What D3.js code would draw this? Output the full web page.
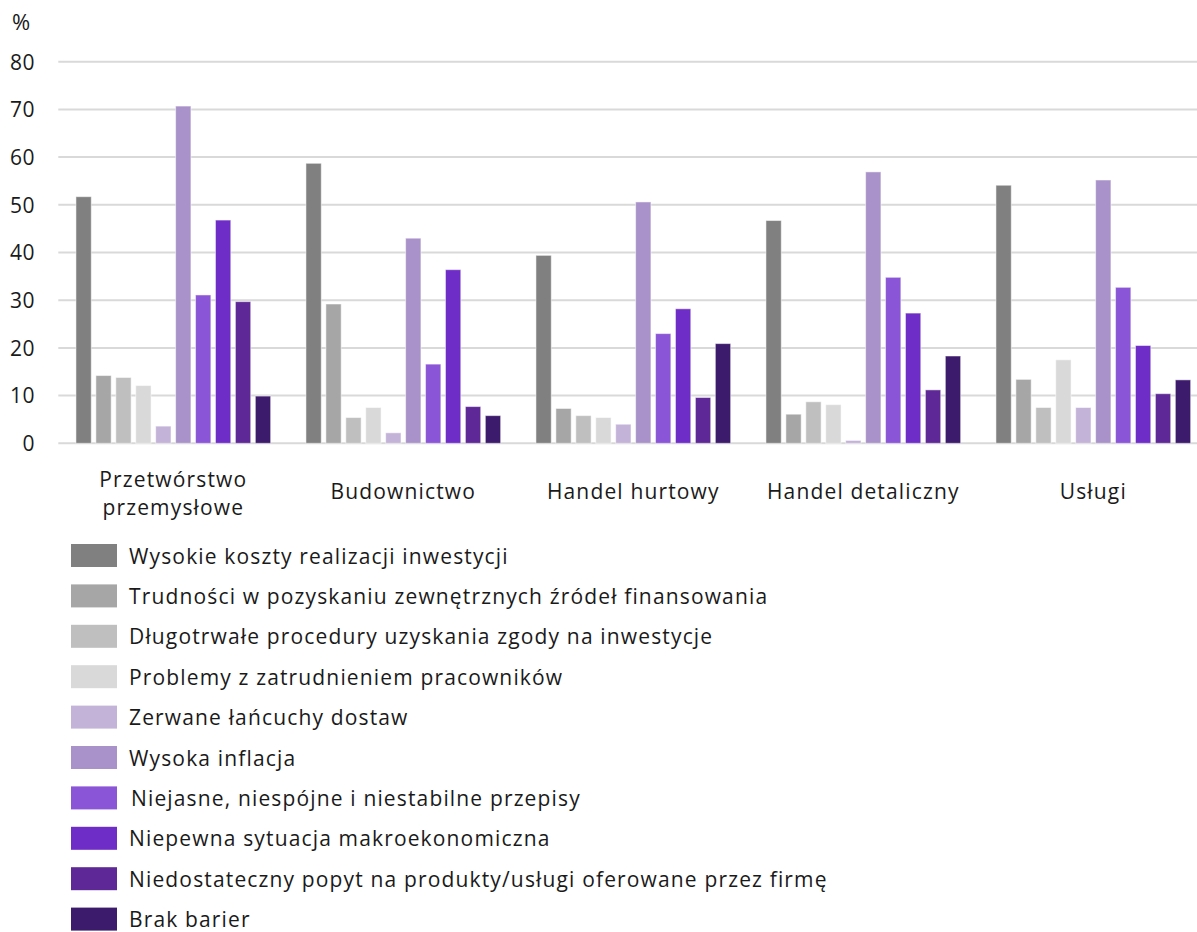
<!DOCTYPE html>
<html>
<head>
<meta charset="utf-8">
<script src="https://cdn.jsdelivr.net/npm/d3@7"></script>
<style>
  html, body { margin: 0; padding: 0; background: #fff; }
  svg { display: block; }
  text { font-family: "Open Sans", "Noto Sans", sans-serif; fill: #1a1a1a; }
</style>
</head>
<body>
<svg id="chart" width="1197" height="932"></svg>
<script>
// ---- data ----
const categories = [
  ["Przetwórstwo", "przemysłowe"],
  ["Budownictwo"],
  ["Handel hurtowy"],
  ["Handel detaliczny"],
  ["Usługi"]
];
const seriesNames = [
  "Wysokie koszty realizacji inwestycji",
  "Trudności w pozyskaniu zewnętrznych źródeł finansowania",
  "Długotrwałe procedury uzyskania zgody na inwestycje",
  "Problemy z zatrudnieniem pracowników",
  "Zerwane łańcuchy dostaw",
  "Wysoka inflacja",
  "Niejasne, niespójne i niestabilne przepisy",
  "Niepewna sytuacja makroekonomiczna",
  "Niedostateczny popyt na produkty/usługi oferowane przez firmę",
  "Brak barier"
];
const seriesColors = ["#808080", "#a6a6a6", "#bfbfbf", "#d9d9d9", "#c3b3d9",
                      "#a992c9", "#8a55d6", "#6f2dc8", "#5e2896", "#3c1a6c"];
// values per series, across the five sectors
const sWysokieKoszty   = [51.7, 58.7, 39.4, 46.7, 54.1];
const sTrudnosci       = [14.2, 29.2,  7.3,  6.1, 13.4];
const sProcedury       = [13.8,  5.4,  5.8,  8.7,  7.5];
const sZatrudnienie    = [12.1,  7.5,  5.4,  8.1, 17.5];
const sLancuchy        = [ 3.6,  2.2,  4.0,  0.6,  7.5];
const sInflacja        = [70.7, 43.0, 50.6, 56.9, 55.2];
const sPrzepisy        = [31.1, 16.6, 23.0, 34.8, 32.7];
const sMakro           = [46.8, 36.4, 28.2, 27.3, 20.5];
const sPopyt           = [29.7,  7.7,  9.6, 11.2, 10.4];
const sBrakBarier      = [ 9.9,  5.8, 20.9, 18.3, 13.3];
const seriesValues = [sWysokieKoszty, sTrudnosci, sProcedury, sZatrudnienie, sLancuchy,
                      sInflacja, sPrzepisy, sMakro, sPopyt, sBrakBarier];
const yTicks = [0, 10, 20, 30, 40, 50, 60, 70, 80];
const yUnit = "%";

// ---- layout ----
const svg = d3.select("#chart");
const y = d3.scaleLinear().domain([0, 80]).range([443.3, 61.7]);
const x0 = d3.scaleBand().domain(d3.range(categories.length)).range([58.3, 1208.3]).padding(0);
const x1 = d3.scaleBand().domain(d3.range(seriesNames.length))
  .range([17.65, x0.bandwidth() - 17.65]).paddingInner(0.232).paddingOuter(0);

// gridlines
svg.append("g").selectAll("line").data(yTicks).join("line")
  .attr("x1", 58.3).attr("x2", 1197)
  .attr("y1", d => y(d)).attr("y2", d => y(d))
  .attr("stroke", "#d9d9d9").attr("stroke-width", 2);

// y axis labels
const yAxis = d3.axisLeft(y).tickValues(yTicks).tickSize(0).tickPadding(0);
const gy = svg.append("g").attr("transform", "translate(35,0)").call(yAxis);
gy.select(".domain").remove();
gy.selectAll("text").style("font-family", '"Open Sans", sans-serif')
  .style("font-size", "21px").style("letter-spacing", "0.5px")
  .attr("fill", "#1a1a1a").attr("dy", "0.35em");
svg.append("text").attr("x", 12).attr("y", 30).style("font-size", "22px").text(yUnit);

// bars
const groups = svg.append("g").selectAll("g").data(categories).join("g")
  .attr("transform", (d, i) => `translate(${x0(i)},0)`);
groups.selectAll("rect")
  .data((d, i) => seriesValues.map((s, k) => ({ k, v: s[i] })))
  .join("rect")
  .attr("x", d => x1(d.k))
  .attr("width", x1.bandwidth())
  .attr("y", d => y(d.v))
  .attr("height", d => y(0) - y(d.v))
  .attr("fill", d => seriesColors[d.k])
  .attr("stroke", "#ffffff").attr("stroke-opacity", 0.5).attr("stroke-width", 1);

// category labels
groups.each(function(d) {
  const g = d3.select(this);
  const cx = x0.bandwidth() / 2;
  const baselines = d.length === 2 ? [487, 515] : [499];
  d.forEach((line, j) => {
    g.append("text").attr("x", cx).attr("y", baselines[j])
      .attr("text-anchor", "middle").style("font-size", "21px")
      .style("letter-spacing", "1.15px").text(line);
  });
});

// legend
const lg = svg.append("g").selectAll("g").data(seriesNames).join("g")
  .attr("transform", (d, i) => `translate(71,${544 + i * 40.4})`);
lg.append("rect").attr("width", 46).attr("height", 23)
  .attr("fill", (d, i) => seriesColors[i]);
lg.append("text").attr("x", (d, i) => i === 6 ? 60 : 58).attr("y", 19.5)
  .style("font-size", "21px").style("letter-spacing", "1.15px").text(d => d);
</script>
</body>
</html>
